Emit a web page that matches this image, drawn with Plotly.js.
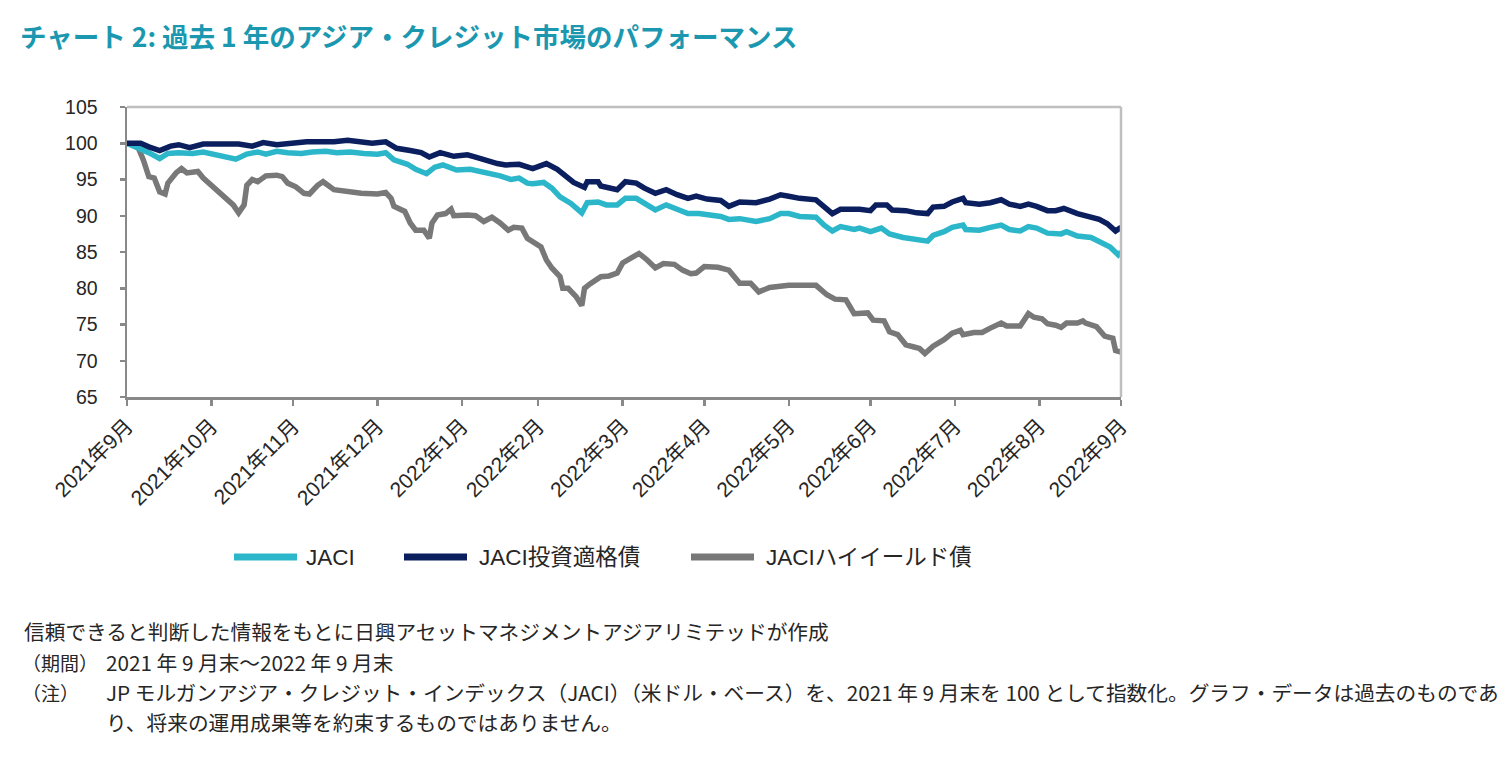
<!DOCTYPE html>
<html>
<head>
<meta charset="utf-8">
<script src="https://cdn.plot.ly/plotly-3.0.1.min.js"></script>
<style>html,body{margin:0;padding:0;background:#fff;}#chart{width:1510px;height:762px;}</style>
</head>
<body>
<div id="chart"></div>
<script>
// ---- data ----
const seriesNames = ['JACI', 'JACI投資適格債', 'JACIハイイールド債'];

const tickDates = ['2021-09-30','2021-10-31','2021-11-30','2021-12-31','2022-01-31','2022-02-28','2022-03-31','2022-04-30','2022-05-31','2022-06-30','2022-07-31','2022-08-31','2022-09-30'];
const tickLabels = ['2021年9月','2021年10月','2021年11月','2021年12月','2022年1月','2022年2月','2022年3月','2022年4月','2022年5月','2022年6月','2022年7月','2022年8月','2022年9月'];
const yTicks = [65, 70, 75, 80, 85, 90, 95, 100, 105];

const jaciDates = ['2021-09-30','2021-10-05','2021-10-08','2021-10-12','2021-10-15','2021-10-19','2021-10-24','2021-10-28',
 '2021-11-01','2021-11-06','2021-11-09','2021-11-13','2021-11-17','2021-11-20','2021-11-24','2021-11-28',
 '2021-12-03','2021-12-07','2021-12-12','2021-12-16','2021-12-21','2021-12-26','2021-12-31',
 '2022-01-03','2022-01-06','2022-01-11','2022-01-14','2022-01-18','2022-01-21','2022-01-24','2022-01-29',
 '2022-02-03','2022-02-07','2022-02-10','2022-02-14','2022-02-18','2022-02-21','2022-02-24','2022-02-26',
 '2022-03-02','2022-03-05','2022-03-08','2022-03-12','2022-03-16','2022-03-18','2022-03-22','2022-03-25','2022-03-29',
 '2022-04-01','2022-04-05','2022-04-09','2022-04-12','2022-04-16','2022-04-20','2022-04-24','2022-04-28',
 '2022-05-03','2022-05-06','2022-05-09','2022-05-13','2022-05-19','2022-05-24','2022-05-28','2022-05-31',
 '2022-06-04','2022-06-10','2022-06-13','2022-06-16','2022-06-19','2022-06-24','2022-06-26','2022-06-30',
 '2022-07-04','2022-07-07','2022-07-12','2022-07-17','2022-07-21','2022-07-23','2022-07-27','2022-07-30',
 '2022-08-03','2022-08-04','2022-08-09','2022-08-13','2022-08-17','2022-08-20','2022-08-24','2022-08-27','2022-08-30',
 '2022-09-03','2022-09-08','2022-09-10','2022-09-14','2022-09-19','2022-09-22','2022-09-26','2022-09-29','2022-09-30'];
const jaciValues = [100.0,99.3,98.7,97.9,98.6,98.7,98.6,98.8,
 98.5,98.2,97.8,98.5,98.8,98.5,98.9,98.7,
 98.6,98.8,98.9,98.7,98.8,98.6,98.5,
 98.7,97.7,97.1,96.4,95.8,96.7,97.0,96.3,
 96.4,96.1,95.8,95.5,95.0,95.2,94.5,94.4,
 94.6,93.8,92.6,91.7,90.4,91.8,91.9,91.5,91.5,
 92.4,92.4,91.6,90.8,91.5,90.8,90.3,90.3,
 90.1,89.9,89.5,89.6,89.2,89.6,90.3,90.3,
 89.9,89.8,88.7,87.9,88.5,88.1,88.3,87.8,
 88.3,87.5,87.0,86.7,86.5,87.3,87.8,88.4,
 88.7,88.1,88.0,88.4,88.7,88.1,87.9,88.5,88.3,
 87.6,87.5,87.8,87.2,87.0,86.4,85.7,84.6,85.0];

const igDates = ['2021-09-30','2021-10-05','2021-10-08','2021-10-12','2021-10-16','2021-10-19','2021-10-23','2021-10-28',
 '2021-11-02','2021-11-07','2021-11-10','2021-11-15','2021-11-19','2021-11-24','2021-11-28',
 '2021-12-01','2021-12-05','2021-12-10','2021-12-15','2021-12-20','2021-12-25','2021-12-29',
 '2022-01-03','2022-01-07','2022-01-12','2022-01-16','2022-01-19','2022-01-23','2022-01-28',
 '2022-02-02','2022-02-05','2022-02-09','2022-02-13','2022-02-16','2022-02-21','2022-02-26',
 '2022-03-03','2022-03-07','2022-03-10','2022-03-13','2022-03-17','2022-03-18','2022-03-22','2022-03-23','2022-03-29',
 '2022-04-01','2022-04-05','2022-04-08','2022-04-12','2022-04-16','2022-04-20','2022-04-24','2022-04-27',
 '2022-05-01','2022-05-06','2022-05-09','2022-05-13','2022-05-19','2022-05-24','2022-05-28','2022-05-31',
 '2022-06-04','2022-06-10','2022-06-13','2022-06-16','2022-06-19','2022-06-24','2022-06-26','2022-06-30',
 '2022-07-02','2022-07-06','2022-07-08','2022-07-13','2022-07-17','2022-07-21','2022-07-23','2022-07-27','2022-07-30',
 '2022-08-03','2022-08-04','2022-08-09','2022-08-13','2022-08-17','2022-08-20','2022-08-24','2022-08-27','2022-08-30',
 '2022-09-03','2022-09-06','2022-09-09','2022-09-14','2022-09-19','2022-09-22','2022-09-25','2022-09-28','2022-09-30'];
const igValues = [100.0,100.0,99.5,99.0,99.6,99.8,99.4,99.9,
 99.9,100.0,99.9,99.6,100.1,99.8,100.0,
 100.0,100.2,100.2,100.2,100.4,100.2,100.0,
 100.2,99.3,99.0,98.7,98.1,98.7,98.2,
 98.4,98.1,97.6,97.2,97.0,97.1,96.5,
 97.2,96.4,95.4,94.6,93.9,94.7,94.7,94.1,93.6,
 94.7,94.5,93.8,93.1,93.6,92.9,92.4,92.7,
 92.3,92.1,91.3,91.9,91.8,92.3,92.9,92.7,
 92.4,92.2,91.2,90.3,90.9,91.0,90.9,90.7,
 91.5,91.5,90.8,90.7,90.4,90.3,91.2,91.3,91.9,
 92.4,91.8,91.6,91.8,92.2,91.6,91.3,91.6,91.3,
 90.7,90.7,91.0,90.3,89.9,89.5,88.9,87.9,88.4];

const hyDates = ['2021-09-30','2021-10-04','2021-10-06','2021-10-08','2021-10-10','2021-10-12','2021-10-14','2021-10-15','2021-10-18','2021-10-20','2021-10-22','2021-10-26','2021-10-28','2021-10-31',
 '2021-11-03','2021-11-06','2021-11-08','2021-11-10','2021-11-12','2021-11-13','2021-11-15','2021-11-17','2021-11-20','2021-11-24','2021-11-26','2021-11-28',
 '2021-12-01','2021-12-04','2021-12-06','2021-12-09','2021-12-11','2021-12-15','2021-12-20','2021-12-25','2021-12-31',
 '2022-01-03','2022-01-05','2022-01-06','2022-01-10','2022-01-12','2022-01-14','2022-01-17','2022-01-19','2022-01-20','2022-01-22','2022-01-25','2022-01-27','2022-01-28',
 '2022-02-02','2022-02-05','2022-02-08','2022-02-11','2022-02-14','2022-02-17','2022-02-19','2022-02-22','2022-02-24',
 '2022-03-01','2022-03-03','2022-03-05','2022-03-08','2022-03-09','2022-03-11','2022-03-14','2022-03-16','2022-03-17','2022-03-19','2022-03-23','2022-03-26','2022-03-29','2022-03-31',
 '2022-04-03','2022-04-06','2022-04-09','2022-04-12','2022-04-15','2022-04-19','2022-04-22','2022-04-25','2022-04-27','2022-04-30',
 '2022-05-05','2022-05-09','2022-05-13','2022-05-17','2022-05-20','2022-05-24','2022-05-31',
 '2022-06-10','2022-06-14','2022-06-17','2022-06-21','2022-06-24','2022-06-29',
 '2022-07-01','2022-07-05','2022-07-07','2022-07-10','2022-07-13','2022-07-16','2022-07-18','2022-07-20','2022-07-23','2022-07-27','2022-07-30',
 '2022-08-02','2022-08-03','2022-08-07','2022-08-10','2022-08-13','2022-08-17','2022-08-19','2022-08-24','2022-08-27','2022-08-29',
 '2022-09-01','2022-09-03','2022-09-06','2022-09-08','2022-09-10','2022-09-14','2022-09-16','2022-09-17','2022-09-21','2022-09-24','2022-09-27','2022-09-28','2022-09-30'];
const hyValues = [100.0,99.5,97.7,95.4,95.2,93.3,93.0,94.5,95.9,96.5,95.9,96.1,95.2,94.2,
 93.3,92.2,91.5,90.4,91.5,94.2,95.0,94.7,95.5,95.6,95.4,94.5,
 94.0,93.1,93.0,94.2,94.7,93.6,93.3,93.1,93.0,
 93.2,92.4,91.3,90.6,89.0,88.0,88.0,86.9,89.0,90.1,90.3,90.9,90.0,
 90.1,90.0,89.2,89.8,89.0,88.0,88.4,88.3,86.9,
 85.7,83.9,82.8,81.6,80.0,80.0,78.8,77.6,80.0,80.6,81.6,81.7,82.1,83.5,
 84.1,84.8,83.9,82.8,83.4,83.3,82.5,82.0,82.1,83.0,
 82.9,82.5,80.7,80.7,79.5,80.1,80.4,
 80.4,79.1,78.5,78.4,76.5,76.6,
 75.6,75.5,74.0,73.6,72.2,71.9,71.7,71.0,72.0,72.9,73.8,
 74.2,73.6,73.9,73.9,74.5,75.2,74.8,74.8,76.5,76.0,
 75.8,75.1,74.9,74.6,75.2,75.2,75.5,75.2,74.7,73.4,73.1,71.4,71.2];

const titleText = 'チャート 2: 過去 1 年のアジア・クレジット市場のパフォーマンス';
const notes = [
  ['', '信頼できると判断した情報をもとに日興アセットマネジメントアジアリミテッドが作成'],
  ['（期間）', '2021 年 9 月末～2022 年 9 月末'],
  ['（注）', 'JP モルガンアジア・クレジット・インデックス（JACI）（米ドル・ベース）を、2021 年 9 月末を 100 として指数化。グラフ・データは過去のものであ'],
  ['', 'り、将来の運用成果等を約束するものではありません。']
];

// ---- styling ----
const colors = ['#2bb7c9', '#0b1f5e', '#787878'];
const W = 1510, H = 762;
const L = 127, R = 1121, T = 107, B = 397;
const px = x => (x - L) / (R - L);
const py = y => (B - y) / (B - T);
const FONT = 'Liberation Sans, Arial, "Noto Sans CJK JP", sans-serif';
const JFONT = '"Noto Sans CJK JP", "Liberation Sans", sans-serif';
const txt = '#262626';

const traces = [
  {x: hyDates, y: hyValues, name: seriesNames[2], color: colors[2]},
  {x: jaciDates, y: jaciValues, name: seriesNames[0], color: colors[0]},
  {x: igDates, y: igValues, name: seriesNames[1], color: colors[1]}
].map(s => ({type: 'scatter', mode: 'lines', x: s.x, y: s.y, name: s.name,
  line: {color: s.color, width: 5.5}, showlegend: false, hoverinfo: 'x+y'}));

const shapes = [
  {type: 'line', xref: 'paper', yref: 'paper', x0: 0, x1: 1, y0: 1, y1: 1, line: {color: '#bfbfbf', width: 2.5}},
  {type: 'line', xref: 'paper', yref: 'paper', x0: 1, x1: 1, y0: 0, y1: 1, line: {color: '#bfbfbf', width: 2.5}}
];
const annotations = [];

// custom legend
const legendItems = [
  {name: seriesNames[0], color: colors[0], x0: 234, x1: 297, tx: 304},
  {name: seriesNames[1], color: colors[1], x0: 404, x1: 467, tx: 477},
  {name: seriesNames[2], color: colors[2], x0: 691, x1: 754, tx: 764}
];
const legY = 557;
legendItems.forEach(it => {
  shapes.push({type: 'line', xref: 'paper', yref: 'paper', x0: px(it.x0), x1: px(it.x1), y0: py(legY), y1: py(legY),
    line: {color: it.color, width: 7}});
  annotations.push({xref: 'paper', yref: 'paper', x: px(it.tx), y: py(legY), xanchor: 'left', yanchor: 'middle',
    text: it.name, showarrow: false, font: {family: FONT, size: 22.5, color: txt}});
});

// footnotes
const noteY = [631, 662, 692, 722];
notes.forEach((n, i) => {
  if (n[0]) annotations.push({xref: 'paper', yref: 'paper', x: px(20), y: py(noteY[i]), xanchor: 'left', yanchor: 'middle',
    text: n[0], showarrow: false, font: {family: JFONT, size: 19, color: txt}});
  annotations.push({xref: 'paper', yref: 'paper', x: px(i === 0 ? 22 : 104), y: py(noteY[i]), xanchor: 'left', yanchor: 'middle',
    text: n[1], showarrow: false, font: {family: JFONT, size: 20.7, color: txt}});
});

const layout = {
  width: W, height: H,
  margin: {l: L, r: W - R, t: T, b: H - B, pad: 0},
  paper_bgcolor: '#ffffff', plot_bgcolor: '#ffffff',
  showlegend: false,
  title: {text: '<b>' + titleText + '</b>', xref: 'container', yref: 'container', x: 20 / W, y: 1 - 38 / H,
    xanchor: 'left', yanchor: 'middle', font: {family: JFONT, size: 26.5, color: '#1b98b0'}},
  xaxis: {
    type: 'date', range: [tickDates[0], tickDates[tickDates.length - 1]],
    tickmode: 'array', tickvals: tickDates, ticktext: tickLabels, tickangle: -45,
    ticks: 'outside', ticklen: 6, tickwidth: 2.5, tickcolor: '#898989',
    showline: true, linecolor: '#898989', linewidth: 2.5, showgrid: false, zeroline: false,
    tickfont: {family: FONT, size: 21, color: txt}, fixedrange: true
  },
  yaxis: {
    range: [65, 105], tickmode: 'array', tickvals: yTicks,
    ticks: 'outside', ticklen: 5, tickwidth: 2.5, tickcolor: '#898989', ticklabelstandoff: 18,
    showline: true, linecolor: '#898989', linewidth: 2.5, showgrid: false, zeroline: false,
    tickfont: {family: FONT, size: 19.5, color: txt}, fixedrange: true
  },
  shapes: shapes,
  annotations: annotations
};

Plotly.newPlot('chart', traces, layout, {displayModeBar: false, staticPlot: true});
</script>
</body>
</html>
